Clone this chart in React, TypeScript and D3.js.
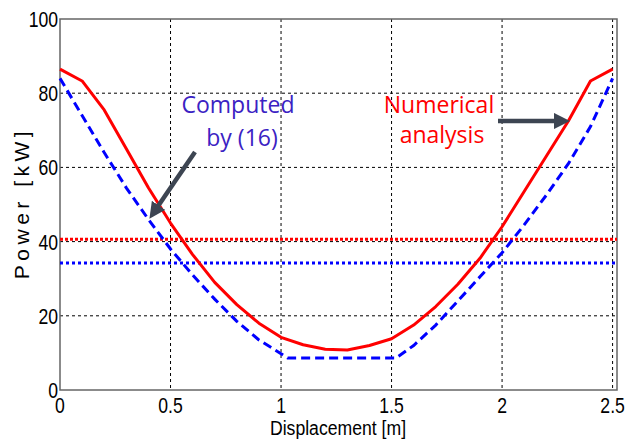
import React, { useEffect, useRef } from 'react';
import * as d3 from 'd3';

// displacement samples [m]
const xNumerical = [0, 0.1, 0.2, 0.3, 0.4, 0.5, 0.6, 0.7, 0.8, 0.9, 1.0, 1.1, 1.2, 1.3, 1.4, 1.5, 1.6, 1.7, 1.8, 1.9, 2.0, 2.1, 2.2, 2.3, 2.4, 2.5];
// power from numerical analysis [kW]
const pNumerical = [86.5, 83.3, 75.5, 65, 54.5, 45, 36.5, 29, 23, 18, 14.2, 12.2, 11, 10.8, 12, 13.8, 17.5, 22.5, 28.5, 35.5, 44, 53.5, 63, 72.5, 83.3, 86.5];

const xComputed = [0, 0.1, 0.2, 0.3, 0.4, 0.5, 0.6, 0.7, 0.8, 0.9, 1.0, 1.03, 1.5, 1.52, 1.6, 1.7, 1.8, 1.9, 2.0, 2.1, 2.2, 2.3, 2.4, 2.5];
const pComputed = [84, 74, 64, 54.5, 46, 38, 31, 24.5, 18.5, 13.5, 9.8, 8.6, 8.6, 8.6, 12, 17.5, 24, 30.5, 37, 44.5, 52.5, 61, 71, 84];

const avgNumerical = 40.6;
const avgComputed = 34.2;

const xTicks = [0, 0.5, 1, 1.5, 2, 2.5];
const yTicks = [0, 20, 40, 60, 80, 100];

const axisFont = "'Liberation Sans', Arial, sans-serif";
const noteFont = "'Open Sans', 'Noto Sans', sans-serif";
const narrow = 0.8;

export default function App() {
  const ref = useRef<SVGSVGElement>(null);

  useEffect(() => {
    const svg = d3.select(ref.current);
    svg.selectAll('*').remove();

    const left = 60, right = 617, top = 19, bottom = 390;
    const x = d3.scaleLinear().domain([0, 2.52]).range([left, right]);
    const y = d3.scaleLinear().domain([0, 100]).range([bottom, top]);

    // grid
    const grid = svg.append('g');
    grid.selectAll('.gx')
      .data(xTicks.filter(d => d > 0))
      .enter().append('line')
      .attr('x1', d => x(d)).attr('x2', d => x(d))
      .attr('y1', top).attr('y2', bottom)
      .attr('stroke', '#000').attr('stroke-width', 1).attr('stroke-dasharray', '3,3');
    grid.selectAll('.gy')
      .data(yTicks.filter(d => d > 0 && d < 100))
      .enter().append('line')
      .attr('x1', left).attr('x2', right)
      .attr('y1', d => y(d)).attr('y2', d => y(d))
      .attr('stroke', '#000').attr('stroke-width', 1).attr('stroke-dasharray', '3,3');

    // plot box
    svg.append('rect')
      .attr('x', left).attr('y', top)
      .attr('width', right - left).attr('height', bottom - top)
      .attr('fill', 'none').attr('stroke', '#666').attr('stroke-width', 1.5);

    // tick labels (condensed like Arial Narrow)
    svg.append('g').selectAll('text')
      .data(yTicks)
      .enter().append('text')
      .attr('transform', d => `translate(${left - 2},${y(d) + 8}) scale(${narrow},1)`)
      .attr('text-anchor', 'end')
      .attr('font-family', axisFont).attr('font-size', 22)
      .text(d => d);
    svg.append('g').selectAll('text')
      .data(xTicks)
      .enter().append('text')
      .attr('transform', d => `translate(${x(d)},${bottom + 23}) scale(${narrow},1)`)
      .attr('text-anchor', 'middle')
      .attr('font-family', axisFont).attr('font-size', 22)
      .text(d => d);

    // axis titles
    svg.append('text')
      .attr('transform', `translate(338,435) scale(0.84,1)`)
      .attr('text-anchor', 'middle')
      .attr('font-family', axisFont).attr('font-size', 21)
      .text('Displacement [m]');
    svg.append('text')
      .attr('transform', 'translate(29,203) rotate(-90)')
      .attr('text-anchor', 'middle')
      .attr('font-family', axisFont).attr('font-size', 21)
      .attr('letter-spacing', 4.5)
      .text('Power [kW]');

    // average lines
    svg.append('line')
      .attr('x1', left).attr('x2', right)
      .attr('y1', y(avgNumerical)).attr('y2', y(avgNumerical))
      .attr('stroke', '#ff0000').attr('stroke-width', 3).attr('stroke-dasharray', '3,2');
    svg.append('line')
      .attr('x1', left).attr('x2', right)
      .attr('y1', y(avgComputed)).attr('y2', y(avgComputed))
      .attr('stroke', '#0000ff').attr('stroke-width', 3).attr('stroke-dasharray', '3,3');

    const line = d3.line<[number, number]>().x(d => x(d[0])).y(d => y(d[1]));

    svg.append('path')
      .datum(xComputed.map((v, i) => [v, pComputed[i]] as [number, number]))
      .attr('d', line)
      .attr('fill', 'none').attr('stroke', '#0000ff').attr('stroke-width', 3)
      .attr('stroke-dasharray', '9,5');

    svg.append('path')
      .datum(xNumerical.map((v, i) => [v, pNumerical[i]] as [number, number]))
      .attr('d', line)
      .attr('fill', 'none').attr('stroke', '#ff0000').attr('stroke-width', 3)
      .attr('stroke-linejoin', 'round');

    // annotations
    const defs = svg.append('defs');
    defs.append('marker')
      .attr('id', 'arr').attr('viewBox', '0 0 10 10')
      .attr('refX', 5).attr('refY', 5)
      .attr('markerWidth', 3.6).attr('markerHeight', 3.6)
      .attr('orient', 'auto')
      .append('path').attr('d', 'M0,0 L10,5 L0,10 Z').attr('fill', '#3d4552');

    svg.append('line')
      .attr('x1', 195).attr('y1', 152).attr('x2', 154).attr('y2', 212)
      .attr('stroke', '#3d4552').attr('stroke-width', 4.5)
      .attr('marker-end', 'url(#arr)');
    svg.append('line')
      .attr('x1', 498).attr('y1', 121).attr('x2', 562).attr('y2', 121)
      .attr('stroke', '#3d4552').attr('stroke-width', 4.5)
      .attr('marker-end', 'url(#arr)');

    const blueNote = svg.append('text')
      .attr('font-family', noteFont).attr('font-size', 23)
      .attr('fill', '#3b22c3').attr('text-anchor', 'middle');
    blueNote.append('tspan').attr('x', 238).attr('y', 113).text('Computed');
    blueNote.append('tspan').attr('x', 242).attr('y', 146).text('by (16)');

    const redNote = svg.append('text')
      .attr('font-family', noteFont).attr('font-size', 23)
      .attr('fill', '#ff0000').attr('text-anchor', 'middle');
    redNote.append('tspan').attr('x', 439).attr('y', 113).text('Numerical');
    redNote.append('tspan').attr('x', 442).attr('y', 143).text('analysis');
  }, []);

  return (
    <svg ref={ref} width={625} height={441}
      style={{ position: 'absolute', left: 0, top: 0, background: '#fff' }} />
  );
}
